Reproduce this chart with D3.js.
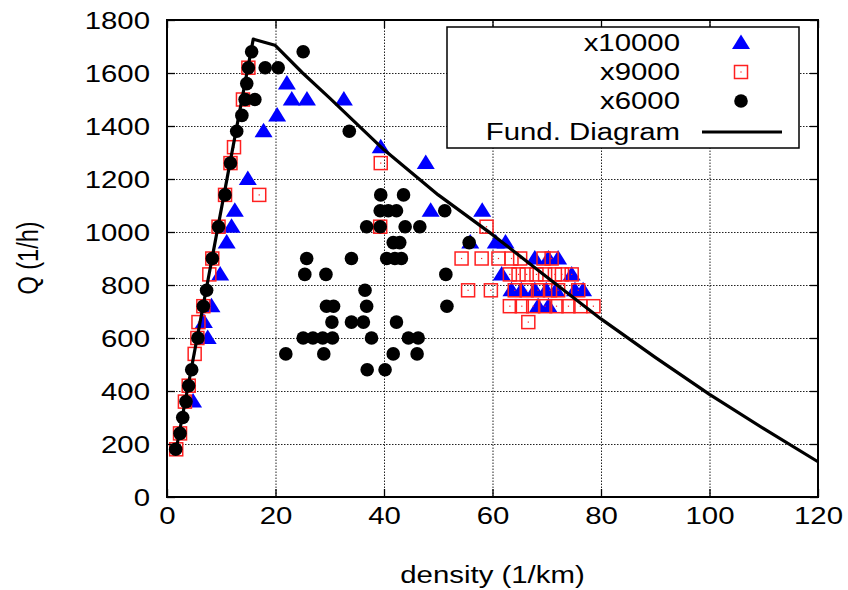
<!DOCTYPE html>
<html>
<head>
<meta charset="utf-8">
<script src="https://cdn.jsdelivr.net/npm/d3@7"></script>
<style>
  body { margin: 0; background: #fff; }
  svg { display: block; }
  text { font-family: "Liberation Sans", Arial, Helvetica, sans-serif; fill: #000; }
</style>
</head>
<body>
<svg id="chart" width="848" height="590"></svg>
<script>
// Axis ticks
const xTicks = [0, 20, 40, 60, 80, 100, 120];
const yTicks = [0, 200, 400, 600, 800, 1000, 1200, 1400, 1600, 1800];
const xTitle = "density (1/km)";
const yTitle = "Q (1/h)";
const seriesNames = ["x10000", "x9000", "x6000", "Fund. Diagram"];

// Measured points: [density (1/km), flow Q (1/h)]
const x10000 = [
  [4.8, 360], [7.5, 600], [6.8, 660], [8.2, 720], [9.8, 840], [11.0, 960], [11.9, 1020],
  [12.5, 1080], [14.9, 1200], [17.8, 1380], [20.3, 1440], [22.1, 1560], [23.0, 1500],
  [25.8, 1500], [32.6, 1500], [39.4, 1320], [47.7, 1260], [48.6, 1080], [58.1, 1080],
  [55.9, 960], [60.6, 960], [62.4, 960], [67.8, 900], [70.3, 900], [72.1, 900],
  [61.7, 840], [74.6, 840], [63.5, 780], [65.3, 780], [67.8, 780], [69.9, 780],
  [71.7, 780], [75.2, 780], [76.7, 780], [68.4, 720], [70.3, 720]
];

const x9000 = [
  [1.7, 180], [2.4, 240], [3.3, 360], [4.0, 420], [5.1, 540], [5.6, 600], [5.8, 660],
  [6.7, 720], [7.8, 840], [8.35, 900], [9.5, 1020], [10.7, 1140], [11.7, 1260],
  [12.35, 1320], [14.0, 1500], [15.0, 1620], [17.0, 1140], [39.4, 1260], [39.3, 1020],
  [58.9, 1020],
  [54.3, 900], [58.0, 900], [61.1, 900], [63.5, 900], [65.1, 900], [69.4, 900], [70.9, 900],
  [63.2, 840], [64.8, 840], [66.3, 840], [68.1, 840], [69.7, 840], [71.5, 840], [72.8, 840], [74.6, 840],
  [55.5, 780], [59.7, 780], [64.1, 780], [66.3, 780], [68.4, 780], [70.6, 780], [72.1, 780], [75.8, 780],
  [63.2, 720], [65.4, 720], [67.5, 720], [69.7, 720], [71.8, 720], [74.0, 720], [76.2, 720], [78.6, 720],
  [66.6, 660]
];

const x6000 = [
  [1.6, 180], [2.4, 240], [2.9, 300], [3.5, 360], [4.0, 420], [4.55, 480], [5.7, 600],
  [6.7, 720], [7.3, 780], [8.35, 900], [9.5, 1020], [10.7, 1140], [11.7, 1260],
  [12.85, 1380], [13.8, 1440], [14.4, 1500], [16.2, 1500], [14.7, 1560], [15.0, 1620],
  [18.1, 1620], [20.5, 1620], [15.6, 1680], [25.1, 1680],
  [33.6, 1380], [39.4, 1140], [43.6, 1140], [39.3, 1080], [40.8, 1080], [42.3, 1080],
  [51.2, 1080], [36.8, 1020], [39.3, 1020], [43.9, 1020], [46.6, 1020], [41.7, 960],
  [42.9, 960], [55.7, 960], [25.75, 900], [34.0, 900], [40.5, 900], [42.0, 900], [43.2, 900],
  [25.4, 840], [29.3, 840], [51.4, 840], [36.5, 780], [29.4, 720], [30.7, 720], [36.8, 720],
  [51.6, 720], [30.4, 660], [34.0, 660], [36.2, 660], [42.3, 660], [25.1, 600], [26.9, 600],
  [28.7, 600], [30.5, 600], [37.7, 600], [44.5, 600], [46.3, 600], [21.9, 540], [28.9, 540],
  [41.7, 540], [46.1, 540], [36.9, 480], [40.2, 480]
];

// Fundamental diagram curve
const fundDiagram = [
  [1.6, 170], [15.9, 1728], [19.9, 1705], [25, 1600], [30, 1505], [40, 1310], [50, 1140],
  [60, 990], [70, 830], [80, 672], [90, 527], [100, 387], [110, 258], [120, 133]
];

const plot = { left: 167, right: 818, top: 20, bottom: 497 };
const sx = 1.25;           // horizontal widening of the lettering
const fontSize = 23.5;

const svg = d3.select("#chart");
const x = d3.scaleLinear().domain([0, 120]).range([plot.left, plot.right]);
const y = d3.scaleLinear().domain([0, 1800]).range([plot.bottom, plot.top]);
const pw = plot.right - plot.left, ph = plot.bottom - plot.top;

// Dotted grid
const grid = svg.append("g").attr("class", "grid");
grid.append("g")
  .attr("transform", `translate(${plot.left},0)`)
  .call(d3.axisLeft(y).tickValues(yTicks.slice(1, -1)).tickSize(-pw).tickFormat(""))
  .call(g => g.select(".domain").remove());
grid.append("g")
  .attr("transform", `translate(0,${plot.bottom})`)
  .call(d3.axisBottom(x).tickValues(xTicks.slice(1, -1)).tickSize(-ph).tickFormat(""))
  .call(g => g.select(".domain").remove());
grid.selectAll("line")
  .attr("stroke", "#222").attr("stroke-width", 1).attr("stroke-dasharray", "1.5,1.5");

// Marker shapes
const triPath = "M0,-8.5 L9,6 L-9,6 Z";
function drawTriangles(g, data) {
  g.selectAll("path.tri").data(data).join("path").attr("class", "tri")
    .attr("d", triPath)
    .attr("transform", d => `translate(${x(d[0])},${y(d[1])})`)
    .attr("fill", "#0000ff");
}
function drawSquares(g, data) {
  const s = g.selectAll("g.sq").data(data).join("g").attr("class", "sq")
    .attr("transform", d => `translate(${x(d[0])},${y(d[1])})`);
  s.append("rect").attr("x", -6.5).attr("y", -6.5).attr("width", 13).attr("height", 13)
    .attr("fill", "none").attr("stroke", "#ff2020").attr("stroke-width", 1.5);
  s.append("rect").attr("x", -0.6).attr("y", -0.6).attr("width", 1.2).attr("height", 1.2)
    .attr("fill", "#ff2020");
}
function drawDots(g, data) {
  g.selectAll("circle").data(data).join("circle")
    .attr("cx", d => x(d[0])).attr("cy", d => y(d[1])).attr("r", 6.8)
    .attr("fill", "#000");
}

drawTriangles(svg.append("g"), x10000);
drawSquares(svg.append("g"), x9000);
drawDots(svg.append("g"), x6000);

const line = d3.line().x(d => x(d[0])).y(d => y(d[1]));
svg.append("path").datum(fundDiagram)
  .attr("d", line).attr("fill", "none").attr("stroke", "#000")
  .attr("stroke-width", 3.2).attr("stroke-linejoin", "round");

// Frame with inward ticks on all sides
const axL = svg.append("g").attr("transform", `translate(${plot.left},0)`)
  .call(d3.axisLeft(y).tickValues(yTicks).tickFormat(d3.format("d")).tickSize(-8).tickPadding(0));
const axB = svg.append("g").attr("transform", `translate(0,${plot.bottom})`)
  .call(d3.axisBottom(x).tickValues(xTicks).tickFormat(d3.format("d")).tickSize(-8).tickPadding(0));
svg.append("g").attr("transform", `translate(${plot.right},0)`)
  .call(d3.axisRight(y).tickValues(yTicks).tickSize(-8).tickFormat(""));
svg.append("g").attr("transform", `translate(0,${plot.top})`)
  .call(d3.axisTop(x).tickValues(xTicks).tickSize(-8).tickFormat(""));
svg.selectAll(".domain").remove();
svg.selectAll(".tick line").filter(function () { return !this.closest(".grid"); })
  .attr("stroke", "#000").attr("stroke-width", 1.3);

axL.selectAll("text")
  .attr("x", -13.6).attr("dy", "0.35em")
  .attr("font-size", fontSize).attr("font-family", null)
  .attr("transform", `scale(${sx},1)`);
axB.selectAll("text")
  .attr("y", 27).attr("dy", "0")
  .attr("font-size", fontSize).attr("font-family", null)
  .attr("transform", `scale(${sx},1)`);

svg.append("rect")
  .attr("x", plot.left).attr("y", plot.top).attr("width", pw).attr("height", ph)
  .attr("fill", "none").attr("stroke", "#000").attr("stroke-width", 2);

// Axis titles
svg.append("text")
  .attr("transform", `translate(${(plot.left + plot.right) / 2},583) scale(${sx},1)`)
  .attr("text-anchor", "middle").attr("font-size", fontSize).text(xTitle);
svg.append("text")
  .attr("transform", `translate(38,258) rotate(-90) scale(1,${sx})`)
  .attr("text-anchor", "middle").attr("font-size", fontSize).text(yTitle);

// Legend
const leg = svg.append("g");
leg.append("rect").attr("x", 447).attr("y", 27).attr("width", 352).attr("height", 121)
  .attr("fill", "#fff").attr("stroke", "#000").attr("stroke-width", 1.5);
const rowY = [43, 72, 101, 132];
seriesNames.forEach((name, i) => {
  leg.append("text")
    .attr("transform", `translate(680,${rowY[i]}) scale(${sx},1)`)
    .attr("text-anchor", "end").attr("dy", "0.36em")
    .attr("font-size", fontSize).text(name);
});
drawTriangles(leg.append("g"), [[x.invert(741), y.invert(rowY[0])]]);
drawSquares(leg.append("g"), [[x.invert(741), y.invert(rowY[1])]]);
leg.append("circle").attr("cx", 741).attr("cy", rowY[2]).attr("r", 6.8).attr("fill", "#000");
leg.append("line").attr("x1", 702).attr("x2", 782).attr("y1", rowY[3]).attr("y2", rowY[3])
  .attr("stroke", "#000").attr("stroke-width", 3.2);
</script>
</body>
</html>
